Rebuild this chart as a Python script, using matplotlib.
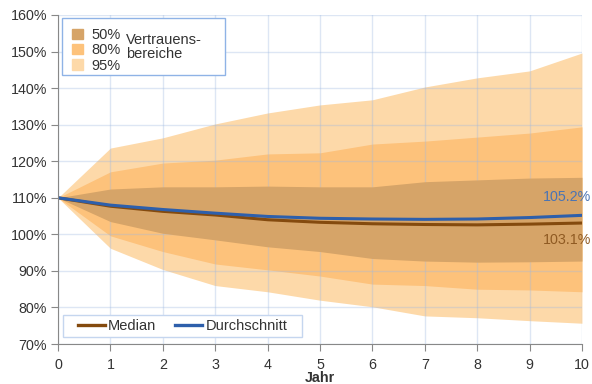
import matplotlib.pyplot as plt
from matplotlib.patches import Patch, Rectangle
from matplotlib.lines import Line2D
import numpy as np

plt.rcParams['font.family'] = ['Liberation Sans', 'DejaVu Sans']

jahre = [0, 1, 2, 3, 4, 5, 6, 7, 8, 9, 10]

# Vertrauensbereiche (in %)
p95_oben = [110, 123.6, 126.4, 130.2, 133.2, 135.4, 136.8, 140.3, 142.8, 144.7, 149.6]
p95_unten = [110, 96.2, 90.4, 86.0, 84.3, 82.0, 80.2, 77.7, 77.2, 76.4, 75.7]
p80_oben = [110, 117.1, 119.5, 120.3, 122.0, 122.3, 124.7, 125.5, 126.6, 127.7, 129.4]
p80_unten = [110, 99.6, 95.3, 91.9, 90.3, 88.6, 86.4, 86.0, 85.0, 84.8, 84.3]
p50_oben = [110, 112.4, 113.0, 113.0, 113.2, 113.0, 113.0, 114.4, 114.9, 115.4, 115.6]
p50_unten = [110, 103.5, 100.3, 98.5, 96.6, 95.3, 93.4, 92.7, 92.4, 92.5, 92.7]

median = [110, 107.7, 106.3, 105.3, 104.0, 103.3, 102.9, 102.7, 102.6, 102.8, 103.1]
mittel = [110, 108.0, 106.8, 105.8, 104.9, 104.4, 104.2, 104.1, 104.2, 104.6, 105.2]

c95 = '#fdd9a9'
c80 = '#fdc27b'
c50 = '#d6a468'
c_median = '#844a0e'
c_mittel = '#2e5fab'
textfarbe = '#333333'

fig = plt.figure(figsize=(5.92, 3.84), dpi=100)
ax = fig.add_axes([0.098, 0.104, 0.885, 0.857])

ax.fill_between(jahre, p95_unten, p95_oben, color=c95, lw=0, zorder=1)
ax.fill_between(jahre, p80_unten, p80_oben, color=c80, lw=0, zorder=2)
ax.fill_between(jahre, p50_unten, p50_oben, color=c50, lw=0, zorder=3)

ax.plot(jahre, median, color=c_median, lw=2.2, zorder=5)
ax.plot(jahre, mittel, color=c_mittel, lw=2.2, zorder=6)

ax.set_xlim(0, 10)
ax.set_ylim(70, 160)
ax.set_xticks(jahre)
ax.set_yticks(np.arange(70, 161, 10))
ax.set_yticklabels([f'{v}%' for v in range(70, 161, 10)])
ax.tick_params(labelsize=10.3, labelcolor=textfarbe, length=5, color='#888888')
ax.tick_params(axis='x', pad=5)
ax.tick_params(axis='y', pad=3)

ax.grid(True, color='#9fb9e0', alpha=0.35, lw=1, zorder=4)
ax.set_axisbelow(False)
for s in ['top', 'right']:
    ax.spines[s].set_visible(False)
for s in ['left', 'bottom']:
    ax.spines[s].set_color('#888888')
    ax.spines[s].set_zorder(7)

# Endwerte beschriften
ax.text(0.998, 0.486, f'{mittel[-1]:.1f}%', transform=fig.transFigure, color='#4a74b4',
        fontsize=10.3, va='center', ha='right', zorder=8)
ax.text(0.998, 0.375, f'{median[-1]:.1f}%', transform=fig.transFigure, color='#8f5a22',
        fontsize=10.3, va='center', ha='right', zorder=8)

fig.text(0.541, 0.016, 'Jahr', fontsize=10.3, fontweight='bold', color=textfarbe,
         ha='center', va='center')

# Legende Vertrauensbereiche: Rahmen, Einträge, Titel rechts daneben
rahmen = Rectangle((0.008, 0.818), 0.311, 0.173, transform=ax.transAxes, facecolor='white',
                   edgecolor='#8fb3e6', lw=1.0, zorder=9)
ax.add_patch(rahmen)
bereich_handles = [Patch(color=c50), Patch(color=c80), Patch(color=c95)]
leg1 = ax.legend(bereich_handles, ['50%', '80%', '95%'], loc='upper left',
                 bbox_to_anchor=(0.005, 0.995), fontsize=10.5, frameon=False,
                 handlelength=0.7, handleheight=0.7, handletextpad=0.6, labelspacing=0.08,
                 borderpad=0.3)
leg1.set_zorder(10)
for t in leg1.get_texts():
    t.set_color(textfarbe)
ax.add_artist(leg1)
ax.text(0.13, 0.903, 'Vertrauens-\nbereiche', transform=ax.transAxes, fontsize=10.5,
        color=textfarbe, va='center', ha='left', linespacing=1.05, zorder=11)

# Legende Linien
rahmen2 = Rectangle((0.0095, 0.021), 0.4565, 0.067, transform=ax.transAxes,
                    facecolor='white', edgecolor='#c5d6ef', lw=1.0, zorder=9)
ax.add_patch(rahmen2)
linien = [Line2D([], [], color=c_median, lw=2.4), Line2D([], [], color=c_mittel, lw=2.4)]
leg2 = ax.legend(linien, ['Median', 'Durchschnitt'], loc='center',
                 bbox_to_anchor=(0.238, 0.0545), ncol=2, fontsize=10.5, frameon=False,
                 handlelength=1.8, handletextpad=0.25, columnspacing=1.3,
                 borderpad=0.0, borderaxespad=0.0)
leg2.set_zorder(10)
for t in leg2.get_texts():
    t.set_color(textfarbe)

fig.savefig('out.png', dpi=100)
